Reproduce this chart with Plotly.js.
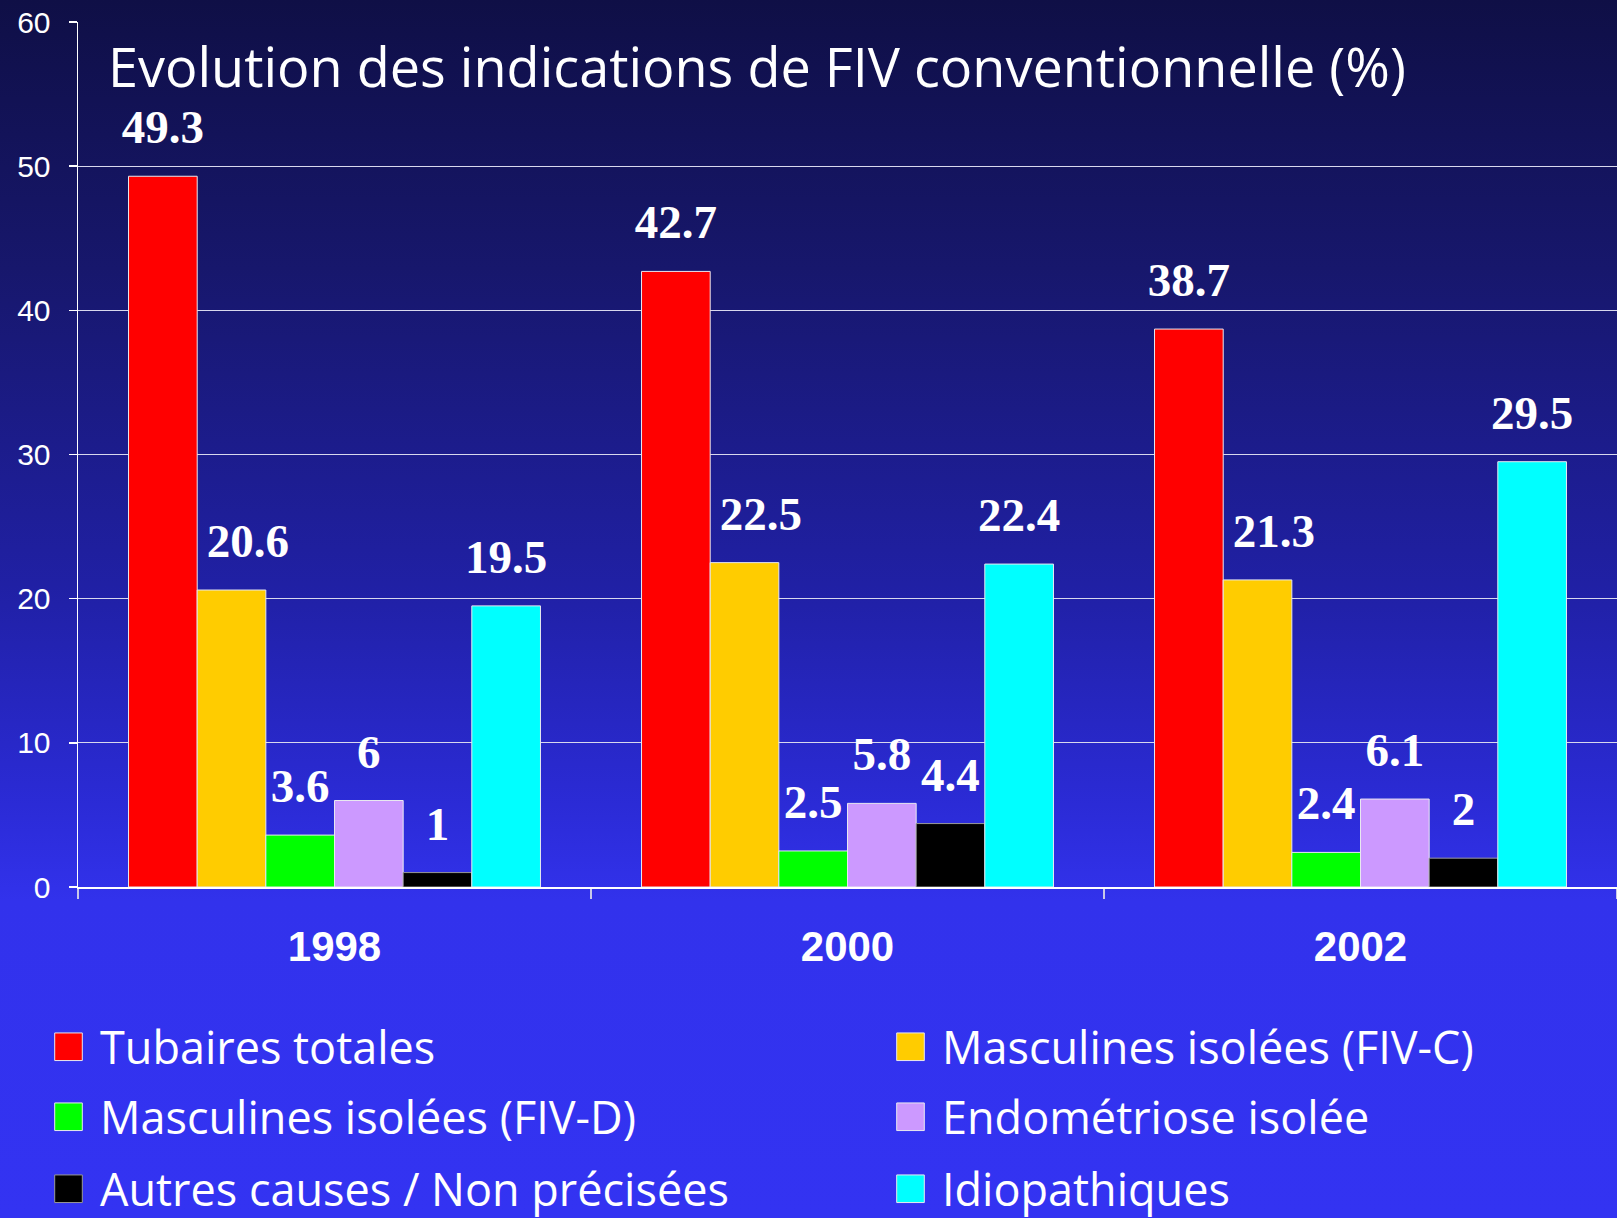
<!DOCTYPE html>
<html>
<head>
<meta charset="utf-8">
<script src="https://cdn.plot.ly/plotly-3.0.1.min.js"></script>
<style>
  html, body { margin:0; padding:0; width:1617px; height:1218px; overflow:hidden;
    background: linear-gradient(to bottom, #0f0f46 0%, #17176c 22%, #2020a4 48%, #2b2bd6 66%, #3232ec 74%, #3333f2 100%); }
  #chart { width:1617px; height:1218px; }
</style>
</head>
<body>
<div id="chart"></div>
<script>
const years = ['1998', '2000', '2002'];
const seriesNames = [
  'Tubaires totales',
  'Masculines isolées (FIV-C)',
  'Masculines isolées (FIV-D)',
  'Endométriose isolée',
  'Autres causes / Non précisées',
  'Idiopathiques'
];
const tubaires = [49.3, 42.7, 38.7];
const masculinesC = [20.6, 22.5, 21.3];
const masculinesD = [3.6, 2.5, 2.4];
const endometriose = [6, 5.8, 6.1];
const autres = [1, 4.4, 2];
const idiopathiques = [19.5, 22.4, 29.5];
const seriesValues = [tubaires, masculinesC, masculinesD, endometriose, autres, idiopathiques];
const colors = ['#ff0000', '#ffcc00', '#00ff00', '#cc99ff', '#000000', '#00ffff'];
const titleText = 'Evolution des indications de FIV conventionnelle (%)';

const legendIds = seriesNames.map((_, i) => i === 0 ? 'legend' : 'legend' + (i + 1));

const traces = seriesValues.map((vals, i) => ({
  type: 'bar',
  name: seriesNames[i],
  x: years,
  y: vals,
  legend: legendIds[i],
  marker: { color: colors[i], line: { color: i === 4 ? '#9a9a9a' : '#e8e8f0', width: 1 } },
  text: vals.map(v => String(v)),
  texttemplate: '<span style="font-size:47px">' + (i === 1 ? '\u2002\u2009' : '') + '%{text}</span><br>\u00a0',
  textposition: 'outside',
  constraintext: 'none',
  cliponaxis: false,
  textfont: { family: 'Liberation Serif', size: 20, color: '#ffffff', weight: 'bold' },
  hoverinfo: 'skip'
}));

const W = 1617, H = 1218;
const mL = 78, mR = 0, mT = 22, mB = 331;
const pw = W - mL - mR, ph = H - mT - mB;
const px = X => (X - mL) / pw;
const py = Y => (H - mB - Y) / ph;

const legendFont = { family: 'Open Sans', size: 45, color: '#ffffff' };
const colX = [37, 879];
const rowY = [1047, 1117, 1189];

const layout = {
  width: W, height: H,
  margin: { l: mL, r: mR, t: mT, b: mB, pad: 0, autoexpand: false },
  paper_bgcolor: 'rgba(0,0,0,0)',
  plot_bgcolor: 'rgba(0,0,0,0)',
  barmode: 'group',
  bargap: 0.197,
  bargroupgap: 0,
  title: {
    text: titleText,
    font: { family: 'Open Sans', size: 54, color: '#ffffff' },
    xref: 'paper', yref: 'paper', x: px(108), y: py(68),
    xanchor: 'left', yanchor: 'middle'
  },
  xaxis: {
    type: 'category',
    showline: true, linecolor: '#ffffff', linewidth: 1.5,
    ticks: 'outside', tickson: 'boundaries', ticklen: 10, tickcolor: '#c8c8e8', tickwidth: 1.5,
    tickfont: { family: 'Liberation Sans', size: 42, color: '#ffffff', weight: 'bold' },
    ticklabelstandoff: 22,
    showgrid: false, zeroline: false, fixedrange: true
  },
  yaxis: {
    range: [0, 60], dtick: 10, tick0: 0,
    showline: true, linecolor: '#ffffff', linewidth: 1.5,
    ticks: 'outside', ticklen: 8, tickcolor: '#ffffff', tickwidth: 1.5,
    tickfont: { family: 'Liberation Sans', size: 30, color: '#ffffff' },
    ticklabelstandoff: 12,
    showgrid: true, gridcolor: '#d8d8ee', gridwidth: 1,
    zeroline: false, fixedrange: true
  },
  showlegend: true
};

legendIds.forEach((id, i) => {
  layout[id] = {
    orientation: 'v', itemwidth: 53,
    xanchor: 'left', yanchor: 'middle',
    x: px(colX[i % 2]), y: py(rowY[Math.floor(i / 2)]),
    bgcolor: 'rgba(0,0,0,0)', borderwidth: 0, font: legendFont, itemclick: false
  };
});

Plotly.newPlot('chart', traces, layout, { staticPlot: true, displayModeBar: false }).then(() => {
  document.querySelectorAll('.legendpoints path').forEach(p => {
    const t = p.getAttribute('transform') || '';
    p.setAttribute('transform', t + ' scale(2.3)');
    p.style.vectorEffect = 'non-scaling-stroke';
  });
});
</script>
</body>
</html>
